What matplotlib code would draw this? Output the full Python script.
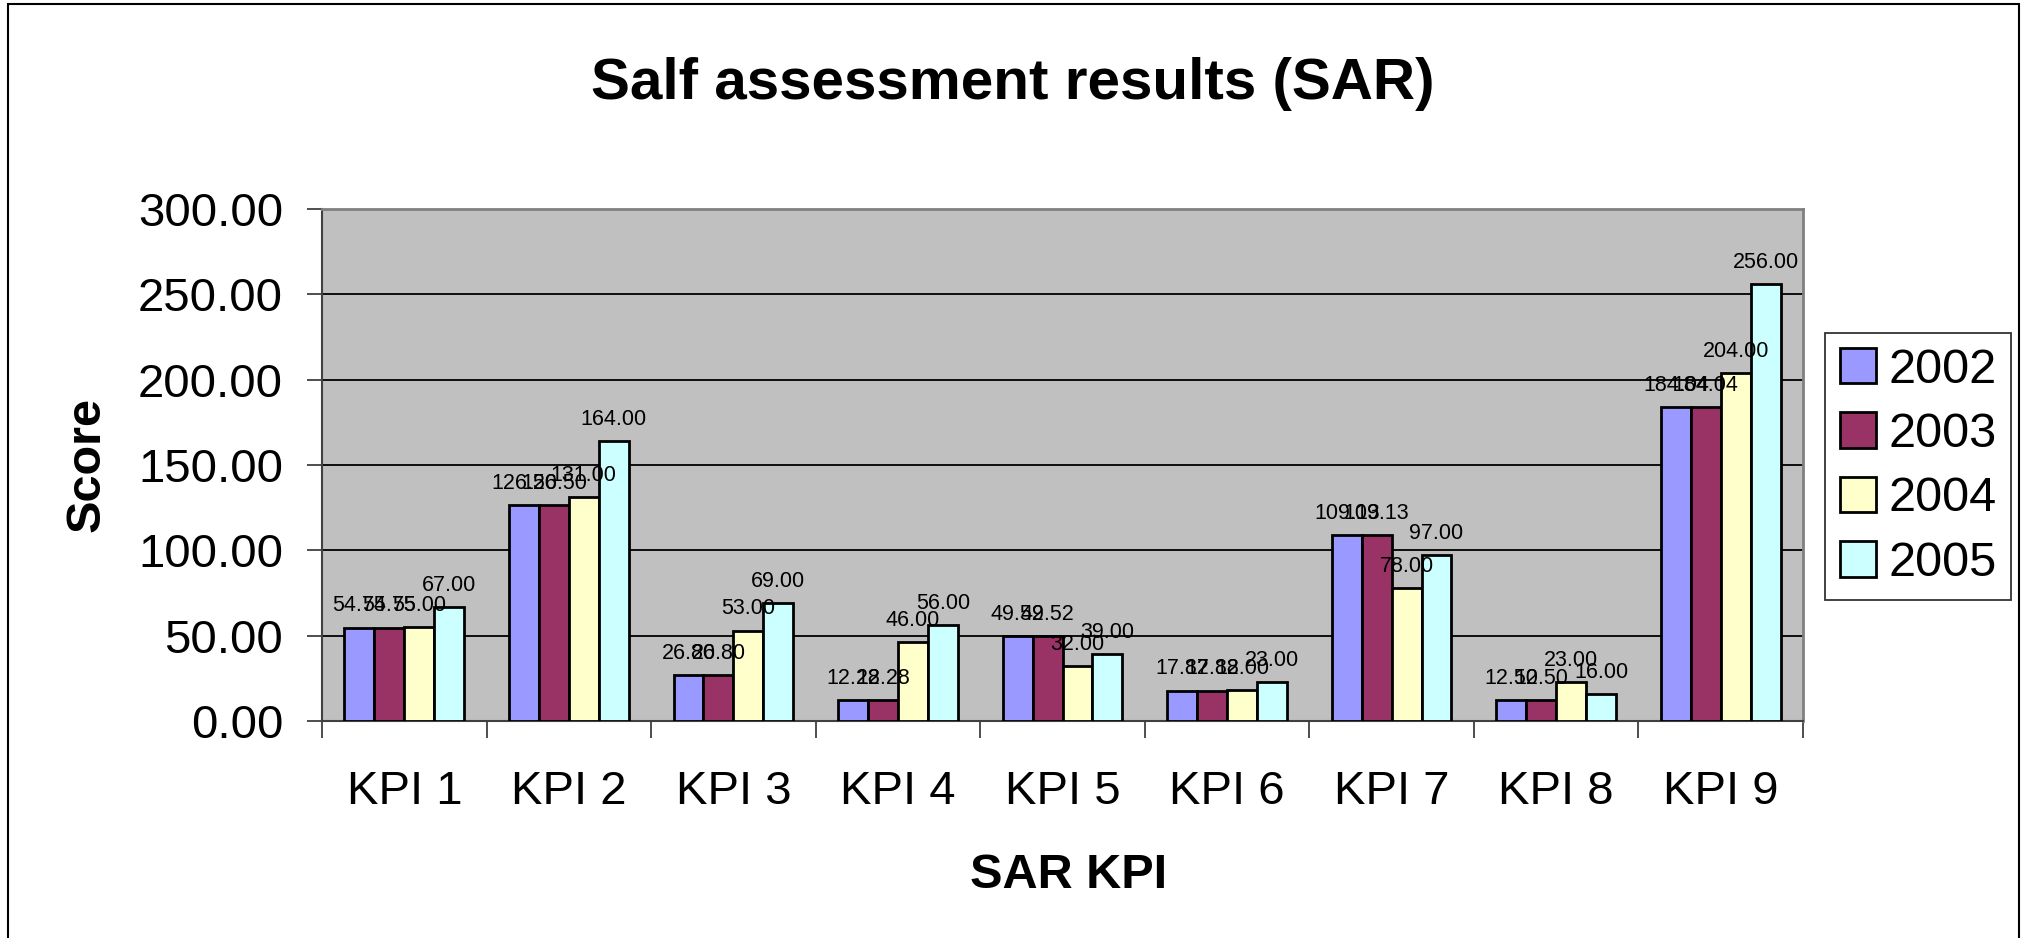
"""
Salf assessment results (SAR) - grouped bar chart of KPI scores per year.
"""

import matplotlib.pyplot as plt
import numpy as np
from matplotlib.patches import Rectangle
from matplotlib.ticker import FormatStrFormatter

plt.rcParams["font.family"] = ["Liberation Sans", "DejaVu Sans"]

# Data
kpis = ["KPI 1", "KPI 2", "KPI 3", "KPI 4", "KPI 5", "KPI 6", "KPI 7", "KPI 8", "KPI 9"]
years = ["2002", "2003", "2004", "2005"]
score_2002 = [54.75, 126.50, 26.80, 12.28, 49.52, 17.82, 109.13, 12.50, 184.04]
score_2003 = [54.75, 126.50, 26.80, 12.28, 49.52, 17.82, 109.13, 12.50, 184.04]
score_2004 = [55.00, 131.00, 53.00, 46.00, 32.00, 18.00, 78.00, 23.00, 204.00]
score_2005 = [67.00, 164.00, 69.00, 56.00, 39.00, 23.00, 97.00, 16.00, 256.00]
y_ticks = [0, 50, 100, 150, 200, 250, 300]

COLORS = ["#9999FF", "#993366", "#FFFFCC", "#CCFFFF"]

# Plotting
W, H = 2026, 938
fg = plt.figure(figsize=(W / 100, H / 100), dpi=100)
ax = fg.add_axes([322 / W, 1 - 721 / H, 1481 / W, 512 / H])

x = np.arange(len(kpis))
bw = 1 / 5.5
series = [score_2002, score_2003, score_2004, score_2005]
for i, (vals, lab, col) in enumerate(zip(series, years, COLORS)):
    bars = ax.bar(
        x + (i - 1.5) * bw,
        vals,
        width=bw,
        color=col,
        edgecolor="black",
        linewidth=2,
        label=lab,
        zorder=3,
    )
    ax.bar_label(bars, fmt="%.2f", padding=8, fontsize=15.5, zorder=4)

ax.set_facecolor("#C0C0C0")
ax.set_xlim(-0.5, len(kpis) - 0.5)
ax.set_ylim(0, 300)
ax.set_yticks(y_ticks)
ax.yaxis.set_major_formatter(FormatStrFormatter("%.2f"))
ax.grid(axis="y", color="black", linewidth=1.3, zorder=1)

ax.set_xticks(x)
ax.set_xticklabels(kpis)
ax.set_xticks(np.arange(len(kpis) + 1) - 0.5, minor=True)
ax.tick_params(axis="x", which="major", length=0, labelsize=34, pad=35)
ax.tick_params(axis="x", which="minor", length=12, width=1.3, color="#404040")
ax.tick_params(axis="y", length=11, width=1.3, labelsize=34, pad=17, color="#404040")

for side in ["top", "right"]:
    ax.spines[side].set_color("#808080")
    ax.spines[side].set_linewidth(2)
for side in ["left", "bottom"]:
    ax.spines[side].set_color("#404040")
    ax.spines[side].set_linewidth(1.5)

# Titles and axis labels
fg.text(1013 / W, 1 - 84 / H, "Salf assessment results (SAR)", fontsize=42,
        fontweight="bold", ha="center", va="center")
fg.text(1069 / W, 1 - 875 / H, "SAR KPI", fontsize=35, fontweight="bold",
        ha="center", va="center")
fg.text(87 / W, 1 - 465 / H, "Score", fontsize=35, fontweight="bold",
        ha="center", va="center", rotation=90)

leg = fg.legend(
    loc="upper left",
    bbox_to_anchor=(1825 / W, 1 - 333 / H),
    borderaxespad=0,
    fontsize=35,
    handlelength=0.75,
    handleheight=0.75,
    handletextpad=0.25,
    labelspacing=0.4,
    borderpad=0.3,
    fancybox=False,
    edgecolor="black",
)
leg.get_frame().set_linewidth(1.3)
for h in leg.legend_handles:
    h.set_linewidth(2)

# Outer chart frame
fg.add_artist(Rectangle((8 / W, -0.1), 2011 / W, 1.1 - 4 / H, transform=fg.transFigure,
                        fill=False, edgecolor="black", linewidth=1.5))

fg.savefig("out.png", dpi=100)
